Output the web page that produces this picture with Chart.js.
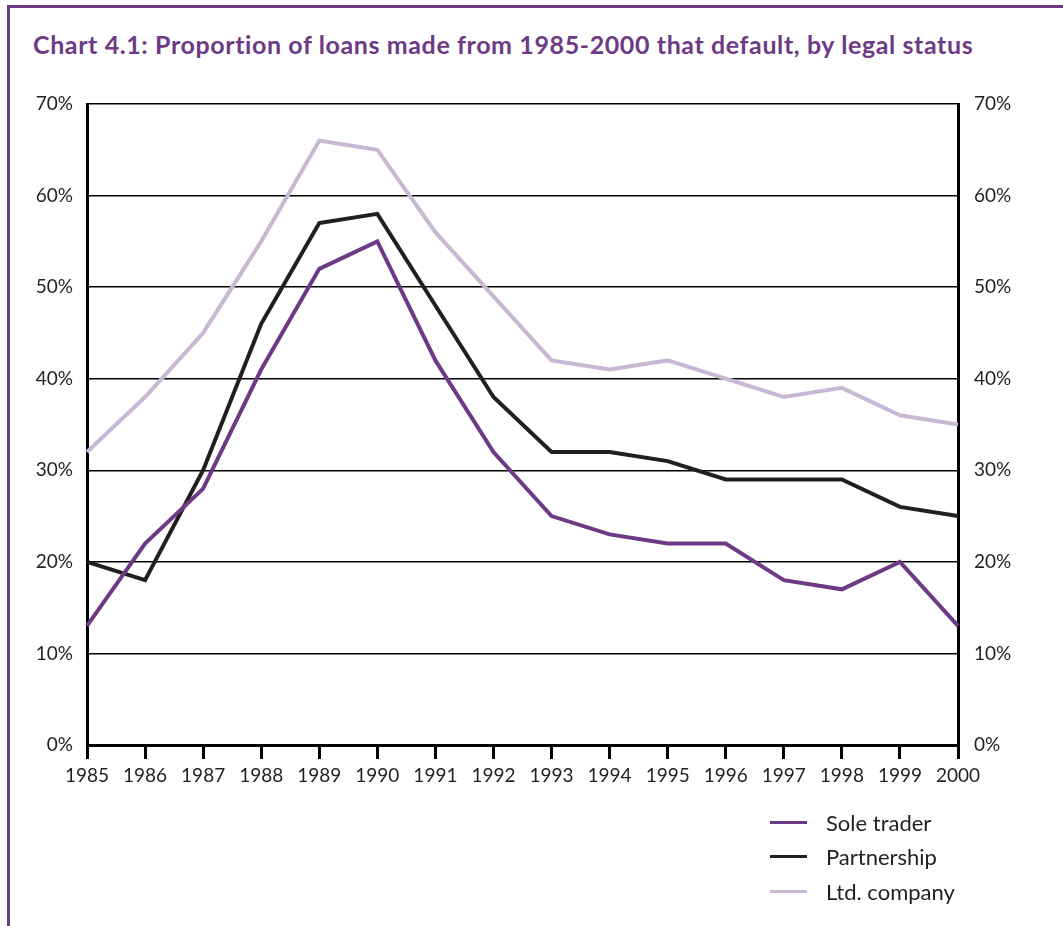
<!DOCTYPE html>
<html>
<head>
<meta charset="utf-8">
<script src="https://cdn.jsdelivr.net/npm/chart.js@4"></script>
<style>
  html, body { margin: 0; padding: 0; background: #fff; }
  body { width: 1063px; height: 926px; position: relative; overflow: hidden; font-family: Lato, "Open Sans", sans-serif; }
  .frame { position: absolute; left: 7px; top: 5px; right: 0; bottom: -10px; border-top: 3px solid #6d3a85; border-left: 3px solid #6d3a85; }
  h1 { position: absolute; left: 33px; top: 29px; margin: 0; font-size: 25px; letter-spacing: 0.6px; font-variant-ligatures: none; font-weight: 700; color: #6d3a85; white-space: nowrap; }
  #wrap { position: absolute; left: 0; top: 0; width: 1063px; height: 926px; }
  #legenda { position: absolute; left: 770px; top: 805px; color: #231f20; font-size: 22px; }
  #legenda div { height: 34.5px; display: flex; align-items: center; }
  #legenda span.amostra { display: inline-block; width: 37px; height: 3px; margin-right: 19px; }
</style>
</head>
<body>
<div class="frame"></div>
<h1>Chart 4.1: Proportion of loans made from 1985-2000 that default, by legal status</h1>
<div id="wrap"><canvas id="grafico"></canvas></div>
<div id="legenda"></div>
<script>
const anos = ["1985", "1986", "1987", "1988", "1989", "1990", "1991", "1992",
  "1993", "1994", "1995", "1996", "1997", "1998", "1999", "2000"];
const soleTrader = [13, 22, 28, 41, 52, 55, 42, 32, 25, 23, 22, 22, 18, 17, 20, 13];
const partnership = [20, 18, 30, 46, 57, 58, 48, 38, 32, 32, 31, 29, 29, 29, 26, 25];
const ltdCompany = [32, 38, 45, 55, 66, 65, 56, 49, 42, 41, 42, 40, 38, 39, 36, 35];
const ticksY = [0, 10, 20, 30, 40, 50, 60, 70];

const series = [
  { label: "Sole trader", data: soleTrader, cor: "#6d3a85" },
  { label: "Partnership", data: partnership, cor: "#231f20" },
  { label: "Ltd. company", data: ltdCompany, cor: "#c9b8d3" },
];

const fonteTicks = { family: "Lato, 'Open Sans', sans-serif", size: 19 };
const corTexto = "#231f20";

const ctx = document.getElementById("grafico").getContext("2d");
new Chart(ctx, {
  type: "line",
  data: {
    labels: anos,
    datasets: series.map((s) => ({
      label: s.label,
      data: s.data,
      borderColor: s.cor,
      backgroundColor: s.cor,
      borderWidth: 4,
      pointRadius: 0,
      tension: 0,
      yAxisID: "y",
    })),
  },
  options: {
    responsive: true,
    maintainAspectRatio: false,
    animation: false,
    layout: { padding: { top: 104, left: 0, right: 0, bottom: 121 } },
    plugins: {
      legend: { display: false },
      tooltip: { enabled: false },
    },
    scales: {
      x: {
        offset: false,
        grid: { drawOnChartArea: false, drawTicks: true, tickLength: 14, color: "#000", lineWidth: 3 },
        border: { display: true, color: "#000", width: 3 },
        ticks: { color: corTexto, font: fonteTicks, padding: 5, maxRotation: 0, autoSkip: false },
        afterFit: (escala) => { escala.height = 60; },
      },
      y: {
        position: "left",
        min: 0,
        max: 70,
        afterBuildTicks: (escala) => { escala.ticks = ticksY.map((v) => ({ value: v })); },
        grid: { color: "#000", lineWidth: 1.5, drawTicks: false },
        border: { display: true, color: "#000", width: 3 },
        ticks: { color: corTexto, font: fonteTicks, padding: 14, callback: (v) => v + "%" },
        afterFit: (escala) => { escala.width = 87; },
      },
      y2: {
        position: "right",
        min: 0,
        max: 70,
        afterBuildTicks: (escala) => { escala.ticks = ticksY.map((v) => ({ value: v })); },
        grid: { drawOnChartArea: false, drawTicks: false },
        border: { display: true, color: "#000", width: 3 },
        ticks: { color: corTexto, font: fonteTicks, padding: 16, callback: (v) => v + "%" },
        afterFit: (escala) => { escala.width = 1063 - 958; },
      },
    },
  },
});

// Legenda em HTML, uma linha por série
const legenda = document.getElementById("legenda");
series.forEach((s) => {
  const linha = document.createElement("div");
  linha.innerHTML = '<span class="amostra" style="background:' + s.cor + '"></span>' + s.label;
  legenda.appendChild(linha);
});
</script>
</body>
</html>
